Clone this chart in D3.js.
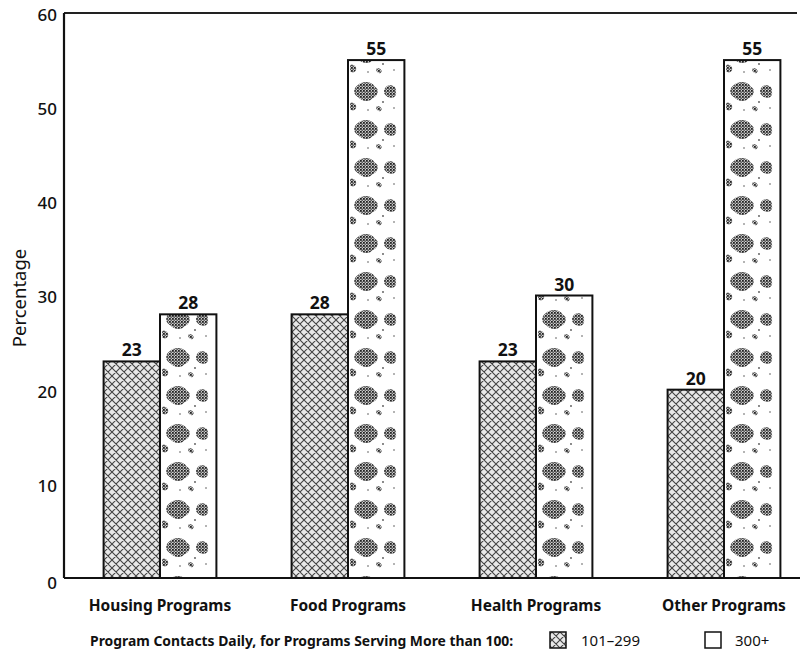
<!DOCTYPE html>
<html><head><meta charset="utf-8">
<script src="https://cdn.jsdelivr.net/npm/d3@7"></script>
<style>body{margin:0;background:#fff}svg{display:block;font-family:"Noto Sans",sans-serif}</style>
</head><body>
<svg id="c" width="804" height="659"></svg>
<script>
const categories = ["Housing Programs","Food Programs","Health Programs","Other Programs"];
const seriesNames = ["101\u2013299","300+"];
const values101 = [23,28,23,20];
const values300 = [28,55,30,55];
const yTicks = [0,10,20,30,40,50,60];

const svg = d3.select("#c");
const defs = svg.append("defs");
const x0 = d3.scaleBand().domain(categories).range([66,818]).paddingInner(0.4).paddingOuter(0.2);
const x1 = d3.scaleBand().domain(seriesNames).range([0,x0.bandwidth()]);
const y = d3.scaleLinear().domain([0,60]).range([578,13]);

// stipple base
const st = defs.append("pattern").attr("id","stip").attr("patternUnits","userSpaceOnUse").attr("width",3).attr("height",3);
st.append("rect").attr("width",3).attr("height",3).attr("fill","#ccc");
st.append("rect").attr("width",1.8).attr("height",1.8).attr("fill","#222");
st.append("rect").attr("x",1.5).attr("y",1.5).attr("width",1.4).attr("height",1.4).attr("fill","#444");

// crosshatch pattern
const ch = defs.append("pattern").attr("id","hatch").attr("patternUnits","userSpaceOnUse").attr("width",8).attr("height",8);
ch.append("rect").attr("width",8).attr("height",8).attr("fill","#e8e8e8");
ch.append("path").attr("d","M0,0L8,8M8,0L0,8M-1,7L1,9M7,-1L9,1M-1,1L1,-1M7,9L9,7").attr("stroke","#444").attr("stroke-width",1.1);

function blobPattern(id, ox){
  const p = defs.append("pattern").attr("id",id).attr("patternUnits","userSpaceOnUse")
    .attr("width",56).attr("height",38).attr("patternTransform",`translate(${ox},2)`);
  p.append("rect").attr("width",56).attr("height",38).attr("fill","#fff");
  p.append("path").attr("d","M10,7 C16,2 24,4 27,9 C32,11 30,18 25,20 C21,25 13,23 10,19 C5,17 5,10 10,7Z").attr("fill","url(#stip)");
  p.append("path").attr("d","M39,8 C44,6 49,9 48,14 C49,19 44,21 40,19 C35,17 35,11 39,8Z").attr("fill","url(#stip)");
  p.append("path").attr("d","M2,25 C6,24 9,27 8,30 C7,33 3,33 2,31Z").attr("fill","url(#stip)");
  p.append("path").attr("d","M28,29 C31,27 35,30 33,33 C31,34 28,32 28,29Z").attr("fill","url(#stip)");
  p.append("circle").attr("cx",35).attr("cy",24).attr("r",0.9).attr("fill","#555");
  p.append("circle").attr("cx",20).attr("cy",32).attr("r",0.8).attr("fill","#555");
  p.append("circle").attr("cx",46).attr("cy",30).attr("r",0.8).attr("fill","#555");
}

// axes frame
svg.append("line").attr("x1",64).attr("x2",797).attr("y1",y(60)).attr("y2",y(60)).attr("stroke","#222").attr("stroke-width",2);
svg.append("line").attr("x1",64).attr("x2",800).attr("y1",y(0)).attr("y2",y(0)).attr("stroke","#111").attr("stroke-width",2);
svg.append("line").attr("x1",64).attr("x2",64).attr("y1",y(60)).attr("y2",y(0)).attr("stroke","#111").attr("stroke-width",2.2);

// y tick labels
svg.append("g").selectAll("text").data(yTicks).join("text")
  .attr("x",57).attr("y",d=>y(d)+ (d===0?5:2)).attr("dy","0.35em").attr("text-anchor","end")
  .attr("font-size",17).attr("font-weight",500).attr("fill","#111").text(d=>d);

svg.append("text").attr("transform","translate(26,298) rotate(-90)").attr("text-anchor","middle")
  .attr("font-size",18.5).attr("fill","#111").text("Percentage");

// bars
const g = svg.append("g");
categories.forEach((c,i)=>{
  const vals = [values101[i], values300[i]];
  vals.forEach((v,j)=>{
    const bx = x0(c)+x1(seriesNames[j]);
    let fill = "url(#hatch)";
    if(j===1){ const id="blob"+i; blobPattern(id,bx); fill=`url(#${id})`; }
    g.append("rect").attr("x",bx).attr("y",y(v)).attr("width",x1.bandwidth()).attr("height",y(0)-y(v))
      .attr("fill",fill).attr("stroke","#111").attr("stroke-width",2);
    g.append("text").attr("x",bx+x1.bandwidth()/2).attr("y",y(v)-5).attr("text-anchor","middle")
      .attr("font-size",17.5).attr("font-weight",700).attr("fill","#111").text(v);
  });
});

// category labels
svg.append("g").selectAll("text").data(categories).join("text")
  .attr("x",d=>x0(d)+x0.bandwidth()/2).attr("y",611).attr("text-anchor","middle")
  .attr("font-size",15.5).attr("font-weight",700).attr("fill","#111").text(d=>d);

// legend
svg.append("text").attr("x",90).attr("y",646).attr("font-size",13.9).attr("font-weight",700).attr("fill","#111")
  .text("Program Contacts Daily, for Programs Serving More than 100:");
const lx = [550,705];
seriesNames.forEach((s,j)=>{
  svg.append("rect").attr("x",lx[j]).attr("y",632).attr("width",16).attr("height",16)
    .attr("fill", j===0?"url(#hatch)":"#fff").attr("stroke","#111").attr("stroke-width",1.5);
  svg.append("text").attr("x",lx[j]+(j===0?31:30)).attr("y",646).attr("font-size",15).attr("fill","#111").text(s);
});
</script>
</body></html>
